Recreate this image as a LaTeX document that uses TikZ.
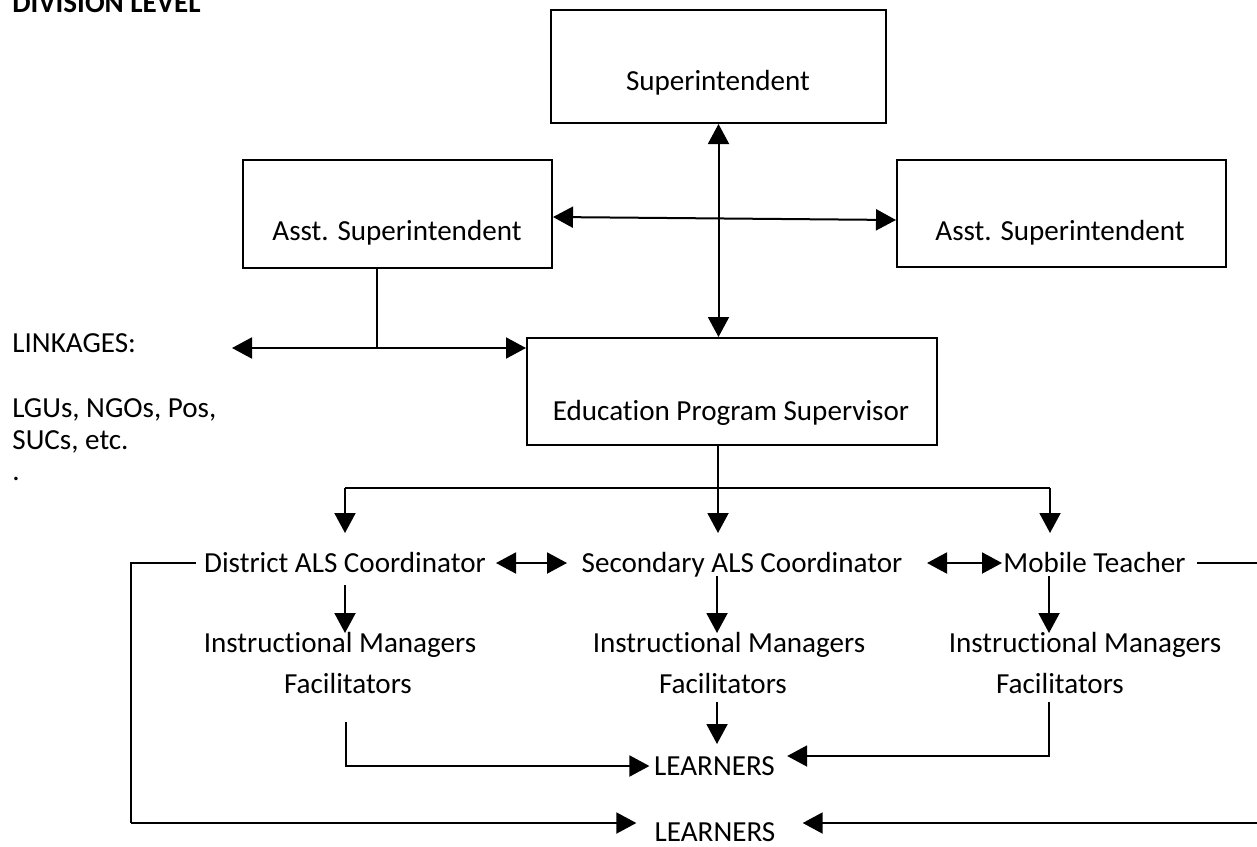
\documentclass[tikz,border=0pt]{standalone}
\usepackage{fontspec}
\setmainfont[Ligatures={NoCommon},RawFeature={-liga;-clig}]{Carlito}
\usetikzlibrary{arrows.meta,calc}
\begin{document}
\begin{tikzpicture}[x=0.5pt,y=-0.5pt,
  every node/.style={font=\fontsize{14.55}{17}\selectfont},
  box/.style={draw,line width=1pt,inner sep=0pt},
  txt/.style={inner sep=0pt,text height=0.7em,text depth=0.2em,anchor=base},
  ln/.style={line width=1pt},
  arr/.style={ln,-{Triangle[length=10pt,width=10.5pt]}},
  dbl/.style={ln,{Triangle[length=10pt,width=10.5pt]}-{Triangle[length=10pt,width=10.5pt]}}]
\useasboundingbox (0,0) rectangle (1257,846);

% title
\node[txt,anchor=base west,font=\bfseries\fontsize{14.55}{17}\selectfont] (div) at (12,12) {DIVISION LEVEL};

% boxes
\node[box,minimum width=167.5pt,minimum height=56.5pt] (sup) at (718.5,66.5) {};
\node[txt] (supT) at (718,90) {Superintendent};
\node[box,minimum width=154.5pt,minimum height=54pt] (asl) at (397.5,214) {};
\node[txt] (aslT) at (397,240) {Asst. Superintendent};
\node[box,minimum width=164.5pt,minimum height=53.5pt] (asr) at (1061.5,213.5) {};
\node[txt] (asrT) at (1060,240) {Asst. Superintendent};
\node[box,minimum width=205pt,minimum height=53.5pt] (eps) at (732,391.5) {};
\node[txt] (epsT) at (731,420) {Education Program Supervisor};

% linkages
\node[txt,anchor=base west] (lk1) at (12,352) {LINKAGES:};
\node[txt,anchor=base west] (lk2) at (12,417) {LGUs, NGOs, Pos,};
\node[txt,anchor=base west] (lk3) at (12,449) {SUCs, etc.};
\node[txt,anchor=base west] (lk4) at (12,480) {.};

% second row
\node[txt] (dist) at (345,572) {District ALS Coordinator};
\node[txt] (sec) at (742,572) {Secondary ALS Coordinator};
\node[txt] (mob) at (1094.5,572) {Mobile Teacher};

\node[txt] (im1) at (340,652) {Instructional Managers};
\node[txt] (im2) at (729,652) {Instructional Managers};
\node[txt] (im3) at (1085,652) {Instructional Managers};
\node[txt] (fa1) at (348,693) {Facilitators};
\node[txt] (fa2) at (723,693) {Facilitators};
\node[txt] (fa3) at (1060,693) {Facilitators};

\node[txt] (lrn1) at (714.5,775) {LEARNERS};
\node[txt] (lrn2) at (715,841) {LEARNERS};

% coordinates
\coordinate (lk) at (377,348);
\coordinate (lkL) at (232,348);
\coordinate (bus) at (718,488);
\coordinate (busL) at (345,488);
\coordinate (busR) at (1050,488);
\coordinate (tipL) at (345,533);
\coordinate (tipM) at (718,533);
\coordinate (tipR) at (1050,533);
\coordinate (oL) at (131,563);
\coordinate (oLb) at (131,823);
\coordinate (oR) at (1257,563);
\coordinate (oRb) at (1257,823);
\coordinate (fL) at (346,766);
\coordinate (fR) at (1049,756);

% top connectors
\draw[dbl] (sup.south) -- (sup.south |- eps.north);
\draw[dbl] ($(asl.east)+(0,3)$) -- ($(asr.west)+(0,6.5)$);
\draw[ln] (asl.south -| lk) -- (lk);
\draw[dbl] (lkL) -- (lkL -| eps.west);

% bus
\draw[ln] (eps.south -| bus) -- (bus);
\draw[ln] (busL) -- (busR);
\draw[arr] (busL) -- (tipL);
\draw[arr] (bus) -- (tipM);
\draw[arr] (busR) -- (tipR);

% horizontal links in row
\draw[dbl] (496,563) -- (567,563);
\draw[dbl] (927,563) -- (1002,563);

% outer loops
\draw[ln,shorten <=4pt] (oL -| dist.west) -- (oL) -- (oLb);
\draw[arr,shorten >=9pt] (oLb) -- (oLb -| lrn2.west);
\draw[ln,shorten <=5.5pt] (oR -| mob.east) -- (oR);
\draw[arr,shorten >=13.5pt] (oRb) -- (oRb -| lrn2.east);

% down arrows to instructional managers
\draw[arr] (345,585) -- (345,633);
\draw[arr] (717,576) -- (717,633);
\draw[arr] (1049,576) -- (1049,633);

% facilitators to learners
\draw[arr,shorten >=2.2pt] (346,722) -- (fL) -- (fL -| lrn1.west);
\draw[arr] (717,702) -- (717,744);
\draw[arr,shorten >=6pt] (1049,702) -- (fR) -- (fR -| lrn1.east);
\end{tikzpicture}
\end{document}
